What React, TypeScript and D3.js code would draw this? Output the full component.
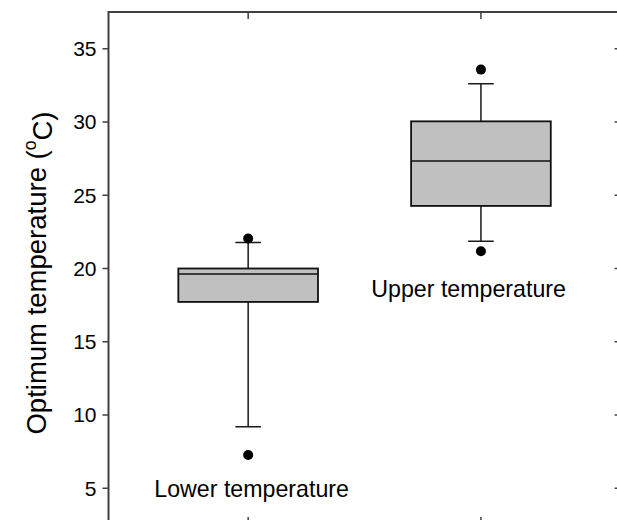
import React, { useEffect, useRef } from 'react';
import * as d3 from 'd3';

// box plot summaries
const categories = ["Lower temperature", "Upper temperature"];
const whiskerLow = [9.2, 21.86];
const q1 = [17.72, 24.27];
const medians = [19.63, 27.34];
const q3 = [20.0, 30.04];
const whiskerHigh = [21.77, 32.61];
const outliers = [[7.27, 22.05], [21.18, 33.57]];
const yTicks = [5, 10, 15, 20, 25, 30, 35];

const App = () => {
  const svgRef = useRef<SVGSVGElement | null>(null);

  useEffect(() => {
    const width = 617;
    const height = 520;
    const font = "'Liberation Sans', Arial, sans-serif";

    const x = d3.scaleLinear().domain([0.4, 2.6]).range([108.5, 620.6]);
    const y = d3.scaleLinear().domain([2.5, 37.5]).range([525, 12]);

    const boxW = x(0.6) - x(0);
    const capW = x(0.11) - x(0);

    const svg = d3.select(svgRef.current)
      .attr("width", width)
      .attr("height", height)
      .style("font-family", font);
    svg.selectAll("*").remove();

    const rows = categories.map((c, i) => ({
      name: c, pos: i + 1,
      lo: whiskerLow[i], q1: q1[i], med: medians[i], q3: q3[i], hi: whiskerHigh[i],
      out: outliers[i]
    }));

    const g = svg.append("g");

    // whiskers
    g.selectAll(".wh")
      .data(rows)
      .join("path")
      .attr("fill", "none")
      .attr("stroke", "#1a1a1a")
      .attr("stroke-width", 1.5)
      .attr("d", d => {
        const cx = x(d.pos);
        return `M${cx},${y(d.hi)}V${y(d.q3)}M${cx},${y(d.q1)}V${y(d.lo)}`
          + `M${cx - capW / 2},${y(d.hi)}H${cx + capW / 2}`
          + `M${cx - capW / 2},${y(d.lo)}H${cx + capW / 2}`;
      });

    // boxes
    g.selectAll(".box")
      .data(rows)
      .join("rect")
      .attr("x", d => x(d.pos) - boxW / 2)
      .attr("y", d => y(d.q3))
      .attr("width", boxW)
      .attr("height", d => y(d.q1) - y(d.q3))
      .attr("fill", "#c0c0c0")
      .attr("stroke", "#111")
      .attr("stroke-width", 1.8);

    g.selectAll(".med")
      .data(rows)
      .join("line")
      .attr("x1", d => x(d.pos) - boxW / 2)
      .attr("x2", d => x(d.pos) + boxW / 2)
      .attr("y1", d => y(d.med))
      .attr("y2", d => y(d.med))
      .attr("stroke", "#111")
      .attr("stroke-width", 1.5);

    // outliers
    g.selectAll(".out")
      .data(rows.flatMap(d => d.out.map(v => ({ pos: d.pos, v }))))
      .join("circle")
      .attr("cx", d => x(d.pos))
      .attr("cy", d => y(d.v))
      .attr("r", 5)
      .attr("fill", "#000");

    // frame
    const axisColor = "#404040";
    const [x0, x1] = x.range();
    const [yb, yt] = y.range();
    svg.append("path")
      .attr("fill", "none")
      .attr("stroke", axisColor)
      .attr("stroke-width", 2)
      .attr("d", `M${x0},${yb}V${yt}H${x1}V${yb}Z`);

    // left ticks (outward) and right ticks (inward)
    svg.append("g")
      .selectAll("path")
      .data(yTicks)
      .join("path")
      .attr("stroke", axisColor)
      .attr("stroke-width", 1.5)
      .attr("d", t => `M${x0 - 6},${y(t)}H${x0}M${x1 - 6},${y(t)}H${x1}`);

    // top and bottom ticks (inward)
    svg.append("g")
      .selectAll("path")
      .data(rows)
      .join("path")
      .attr("stroke", axisColor)
      .attr("stroke-width", 1.5)
      .attr("d", d => `M${x(d.pos)},${yt}v7M${x(d.pos)},${yb}v-8`);

    svg.append("g")
      .attr("text-anchor", "end")
      .attr("font-size", 21)
      .selectAll("text")
      .data(yTicks)
      .join("text")
      .attr("x", x0 - 12)
      .attr("y", t => y(t))
      .attr("dy", "0.35em")
      .text(t => t);

    // category labels
    const labelAt = [[1.015, 4.39], [1.947, 18.06]];
    svg.append("g")
      .attr("text-anchor", "middle")
      .attr("font-size", 23.2)
      .selectAll("text")
      .data(rows)
      .join("text")
      .attr("x", (d, i) => x(labelAt[i][0]))
      .attr("y", (d, i) => y(labelAt[i][1]))
      .text(d => d.name);

    // y axis title
    const title = svg.append("text")
      .attr("text-anchor", "middle")
      .attr("font-size", 27.5)
      .attr("transform", `translate(46,${273}) rotate(-90)`);
    title.append("tspan").text("Optimum temperature (");
    title.append("tspan").attr("font-size", 17.5).attr("dy", "-0.55em").text("o");
    title.append("tspan").attr("dy", "0.55em").text("C)");
  }, []);

  return (
    <svg ref={svgRef} style={{ position: 'absolute', left: 0, top: 0 }} />
  );
};

export default App;
